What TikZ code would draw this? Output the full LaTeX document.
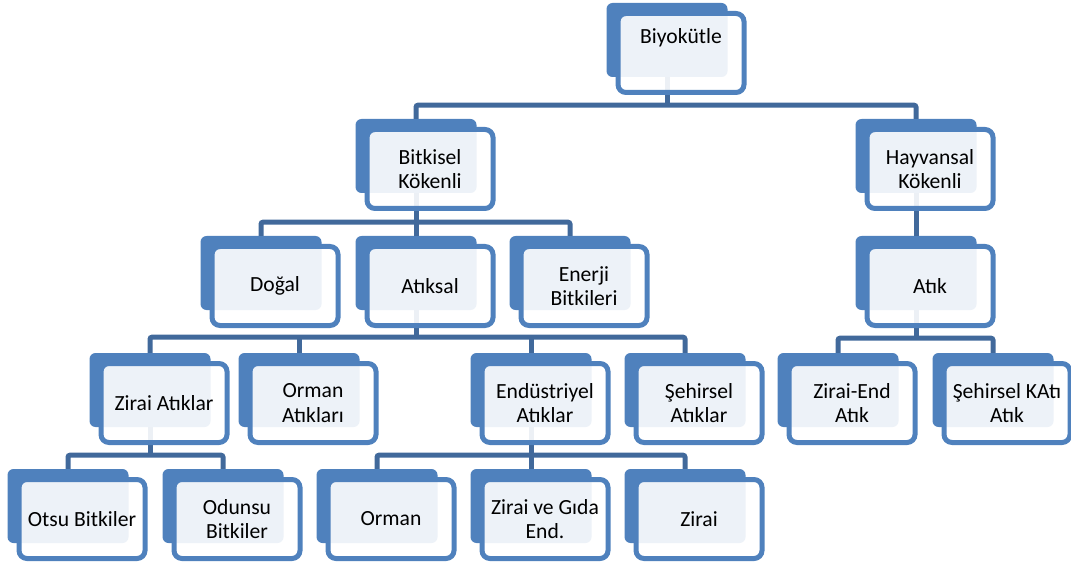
\documentclass[tikz,border=0pt]{standalone}
\usepackage{fontspec}
\setmainfont{Carlito}
\usepackage{xcolor}
\usetikzlibrary{positioning}

\definecolor{kutu}{HTML}{4F81BD}
\definecolor{hat}{HTML}{41699B}

\begin{document}
\begin{tikzpicture}[
    x=1pt, y=-1pt,
    font=\fontsize{21.6}{24.5}\selectfont,
    back/.style={fill=kutu, rounded corners=6pt, minimum width=121pt,
                 minimum height=74pt, inner sep=0pt},
    front/.style={draw=kutu, line width=5pt, fill=white, fill opacity=0.9,
                  text opacity=1, rounded corners=8pt, minimum width=126pt,
                  minimum height=79pt, inner sep=0pt, align=center,
                  xshift=14pt, yshift=-13pt},
    link/.style={draw=hat, line width=5pt, rounded corners=2pt},
  ]
    \useasboundingbox (0,0) rectangle (1071,564);

    % --- dark back plates ---
    \node[back] (bio)       at (667,40)  {};
    \node[back] (bitki)     at (416,156) {};
    \node[back] (hayvan)    at (916,156) {};
    \node[back] (dogal)     at (261,273) {};
    \node[back] (atiksal)   at (416,273) {};
    \node[back] (enerji)    at (570,273) {};
    \node[back] (atik)      at (916,273) {};
    \node[back] (ziraiat)   at (150,390) {};
    \node[back] (ormanat)   at (299,390) {};
    \node[back] (endus)     at (531,390) {};
    \node[back] (sehir)     at (685,390) {};
    \node[back] (ziraiend)  at (838,390) {};
    \node[back] (sehirkati) at (993,390) {};
    \node[back] (otsu)      at (68,506)  {};
    \node[back] (odunsu)    at (223,506) {};
    \node[back] (orman)     at (377,506) {};
    \node[back] (gida)      at (531,506) {};
    \node[back] (zirai)     at (685,506) {};

    % --- connectors ---
    \draw[link] (bio.south) -- ++(0,28) coordinate (b1);
    \draw[link] (bitki.north) |- (b1) -| (hayvan.north);

    \draw[link] (bitki.south) -- (atiksal.north);
    \coordinate (b2) at ([yshift=-29pt]bitki.south);
    \draw[link] (dogal.north) |- (b2) -| (enerji.north);

    \draw[link] (hayvan.south) -- (atik.north);

    \draw[link] (atiksal.south) -- ++(0,27) coordinate (b3);
    \draw[link] (ziraiat.north) |- (b3) -| (sehir.north);
    \draw[link] (ormanat.north) -- (ormanat.north |- b3);
    \draw[link] (endus.north) -- (endus.north |- b3);

    \draw[link] (atik.south) -- ++(0,28) coordinate (b4);
    \draw[link] (ziraiend.north) |- (b4) -| (sehirkati.north);

    \draw[link] (ziraiat.south) -- ++(0,28) coordinate (b5);
    \draw[link] (otsu.north) |- (b5) -| (odunsu.north);

    \draw[link] (endus.south) -- (gida.north);
    \coordinate (b6) at ([yshift=-28pt]endus.south);
    \draw[link] (orman.north) |- (b6) -| (zirai.north);

    % --- light front frames with the labels ---
    \node[front] (bio-t)       at (bio)       {\raisebox{15pt}[\height][\depth]{Biyokütle}};
    \node[front] (bitki-t)     at (bitki)     {Bitkisel\\Kökenli};
    \node[front] (hayvan-t)    at (hayvan)    {Hayvansal\\Kökenli};
    \node[front] (dogal-t)     at (dogal)     {Doğal};
    \node[front] (atiksal-t)   at (atiksal)   {Atıksal};
    \node[front] (enerji-t)    at (enerji)    {Enerji\\Bitkileri};
    \node[front] (atik-t)      at (atik)      {Atık};
    \node[front] (ziraiat-t)   at (ziraiat)   {Zirai Atıklar};
    \node[front] (ormanat-t)   at (ormanat)   {Orman\\Atıkları};
    \node[front] (endus-t)     at (endus)     {Endüstriyel\\Atıklar};
    \node[front] (sehir-t)     at (sehir)     {Şehirsel\\Atıklar};
    \node[front] (ziraiend-t)  at (ziraiend)  {Zirai-End\\Atık};
    \node[front] (sehirkati-t) at (sehirkati) {Şehirsel KAtı\\Atık};
    \node[front] (otsu-t)      at (otsu)      {Otsu Bitkiler};
    \node[front] (odunsu-t)    at (odunsu)    {Odunsu\\Bitkiler};
    \node[front] (orman-t)     at (orman)     {Orman};
    \node[front] (gida-t)      at (gida)      {Zirai ve Gıda\\End.};
    \node[front] (zirai-t)     at (zirai)     {Zirai};
  \end{tikzpicture}
\end{document}
